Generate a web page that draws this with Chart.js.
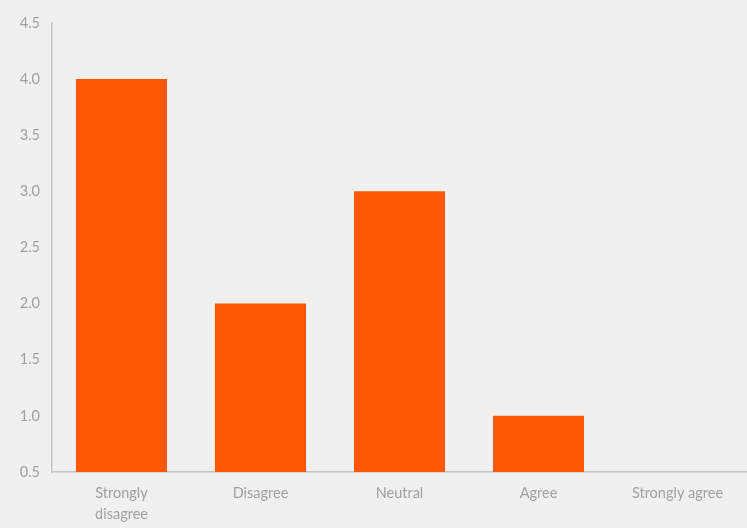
<!DOCTYPE html>
<html>
<head>
<meta charset="utf-8">
<script src="https://cdn.jsdelivr.net/npm/chart.js@4/dist/chart.umd.min.js"></script>
<style>
  html, body { margin: 0; padding: 0; background: #f0f0f0; }
  #wrap { width: 747px; height: 528px; }
</style>
</head>
<body>
<div id="wrap"><canvas id="myChart" width="747" height="528"></canvas></div>
<script>
'use strict';

// categories + values
let categories = [['Strongly', 'disagree'], 'Disagree', 'Neutral', 'Agree', 'Strongly agree'];
let responses = [4, 2, 3, 1, 0];
let yTicks = [0.5, 1.0, 1.5, 2.0, 2.5, 3.0, 3.5, 4.0, 4.5];

let labelFont = { family: 'Lato', size: 14.5, lineHeight: 1.5 };
let grey = '#a0a0a0';

const data = {
  labels: categories,
  datasets: [
    {
      label: 'Responses',
      data: responses,
      backgroundColor: '#fd5806',
      borderWidth: 0,
      categoryPercentage: 1,
      barPercentage: 0.655
    }
  ]
};

const config = {
  type: 'bar',
  data: data,
  options: {
    responsive: false,
    animation: false,
    layout: { padding: { top: 8, right: 0, left: 0, bottom: 0 } },
    plugins: {
      legend: { display: false },
      tooltip: { enabled: false }
    },
    scales: {
      x: {
        afterFit: function (scale) {
          scale.height = 56;
        },
        grid: { display: false, drawTicks: false },
        border: { display: true, color: '#c4c4c4', width: 1.5 },
        ticks: { color: grey, font: labelFont, padding: 10, maxRotation: 0, autoSkip: false }
      },
      y: {
        min: yTicks[0],
        max: yTicks[yTicks.length - 1],
        afterBuildTicks: function (scale) {
          scale.ticks = yTicks.map(v => ({ value: v }));
        },
        afterFit: function (scale) {
          scale.width = 52;
        },
        grid: { display: false, drawTicks: false },
        border: { display: true, color: '#c4c4c4', width: 1.5 },
        ticks: {
          color: grey,
          font: labelFont,
          padding: 12,
          callback: v => Number(v).toFixed(1)
        }
      }
    }
  }
};

const myChart = new Chart(document.getElementById('myChart'), config);
</script>
</body>
</html>
